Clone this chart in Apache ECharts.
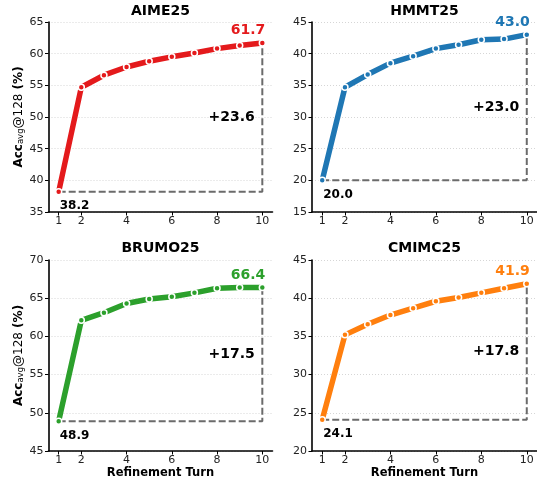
<!DOCTYPE html>
<html><head><meta charset="utf-8">
<script src="https://cdn.jsdelivr.net/npm/echarts@6/dist/echarts.min.js"></script>
<style>html,body{margin:0;padding:0;background:#fff}#c{width:537px;height:482px}</style>
</head><body><div id="c"></div>
<script>
const turns = [1, 2, 3, 4, 5, 6, 7, 8, 9, 10];
const titles = ['AIME25', 'HMMT25', 'BRUMO25', 'CMIMC25'];
const aime = [38.2, 54.7, 56.6, 57.9, 58.8, 59.5, 60.1, 60.8, 61.3, 61.7];
const hmmt = [20.0, 34.7, 36.7, 38.5, 39.6, 40.8, 41.4, 42.2, 42.3, 43.0];
const brumo = [48.9, 62.1, 63.1, 64.3, 64.9, 65.2, 65.7, 66.3, 66.4, 66.4];
const cmimc = [24.1, 35.2, 36.6, 37.8, 38.7, 39.6, 40.1, 40.7, 41.3, 41.9];
const deltas = ['+23.6', '+23.0', '+17.5', '+17.8'];
const yMins = [35, 15, 45, 20];
const yMaxs = [65, 45, 70, 45];
const xTicks = [1, 2, 4, 6, 8, 10];
const colors = ['#e41a1c', '#1f77b4', '#2ca02c', '#ff7f0e'];

const allVals = [aime, hmmt, brumo, cmimc];
const FONT = 'DejaVu Sans';
const grids = [
  {left: 48.5, top: 22, width: 224, height: 190},
  {left: 312, top: 22, width: 225, height: 190},
  {left: 48.5, top: 260, width: 224, height: 191},
  {left: 312, top: 260, width: 225, height: 191}
];

const xAxes = [], yAxes = [], series = [], graphics = [];
grids.forEach((g, i) => {
  const bottomRow = i >= 2, leftCol = i % 2 === 0;
  xAxes.push({
    type: 'value', gridIndex: i, min: 0.55, max: 10.45,
    name: bottomRow ? 'Refinement Turn' : '', nameLocation: 'middle', nameGap: 15,
    nameTextStyle: {fontFamily: FONT, fontWeight: 'bold', fontSize: 11.5, color: '#000'},
    axisLine: {show: true, lineStyle: {color: '#000', width: 1.6}},
    axisTick: {show: true, length: 3.5, lineStyle: {color: '#000', width: 1}, customValues: xTicks},
    axisLabel: {fontFamily: FONT, fontSize: 11, color: '#222', margin: 4, customValues: xTicks},
    splitLine: {show: false}
  });
  yAxes.push({
    type: 'value', gridIndex: i, min: yMins[i], max: yMaxs[i], interval: 5,
    name: leftCol ? '{b|Acc}{s|avg}{n|@128}{b| (%)}' : '', nameLocation: 'middle', nameGap: 22,
    nameTextStyle: {
      fontFamily: FONT, color: '#000',
      rich: {
        b: {fontFamily: FONT, fontWeight: 'bold', fontSize: 12, color: '#000'},
        n: {fontFamily: FONT, fontSize: 12, color: '#000'},
        s: {fontFamily: FONT, fontSize: 8.5, color: '#000', padding: [5, 0, 0, 0]}
      }
    },
    axisLine: {show: true, lineStyle: {color: '#000', width: 1.6}},
    axisTick: {show: true, length: 3.5, lineStyle: {color: '#000', width: 1}},
    axisLabel: {fontFamily: FONT, fontSize: 11, color: '#222', margin: 5},
    splitLine: {show: true, lineStyle: {color: '#cccccc', width: 0.8, type: [1, 2]}}
  });
  const vals = allVals[i];
  const s = vals[0], e = vals[vals.length - 1];
  series.push({
    type: 'line', xAxisIndex: i, yAxisIndex: i, silent: true, z: 1,
    data: [[turns[0], s], [turns[turns.length - 1], s], [turns[turns.length - 1], e]],
    symbol: 'none', lineStyle: {color: '#6b6b6b', width: 2, type: [7, 3]}
  });
  series.push({
    type: 'line', xAxisIndex: i, yAxisIndex: i, z: 3,
    data: turns.map((t, j) => [t, vals[j]]),
    lineStyle: {color: colors[i], width: 5.5},
    symbol: 'circle', symbolSize: 6,
    itemStyle: {color: colors[i], borderColor: '#fff', borderWidth: 1.5}
  });
  const lab = (extra) => Object.assign({show: true, fontFamily: FONT, fontWeight: 'bold',
    textBorderWidth: 0, opacity: 1}, extra);
  series.push({
    type: 'scatter', xAxisIndex: i, yAxisIndex: i, z: 5, symbolSize: 1, silent: true,
    itemStyle: {color: 'rgba(255,255,255,0)'},
    data: [
      {value: [turns[0], s], label: lab({position: 'bottom', align: 'left', distance: 8, offset: [1, 0],
        formatter: s.toFixed(1), fontSize: 12, color: '#000'})},
      {value: [turns[turns.length - 1], e], label: lab({position: 'top', align: 'right', distance: 5, offset: [3, 0],
        formatter: e.toFixed(1), fontSize: 14, color: colors[i]})},
      {value: [turns[turns.length - 1], (s + e) / 2], label: lab({position: 'left', distance: 7,
        formatter: deltas[i], fontSize: 14, color: '#000'})}
    ]
  });
  graphics.push({
    type: 'text', x: g.left + g.width / 2, y: bottomRow ? 248 : 11,
    style: {text: titles[i], textAlign: 'center', textVerticalAlign: 'middle',
      font: 'bold 14px "DejaVu Sans"', fill: '#000'}
  });
});

const chart = echarts.init(document.getElementById('c'), null, {renderer: 'canvas'});
chart.setOption({
  animation: false,
  backgroundColor: '#fff',
  grid: grids,
  xAxis: xAxes,
  yAxis: yAxes,
  series: series,
  graphic: graphics
});
</script>
</body></html>
